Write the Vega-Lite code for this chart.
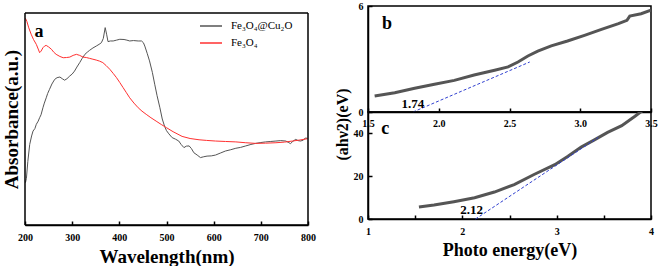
{
  "$schema": "https://vega.github.io/schema/vega-lite/v6.json",
  "padding": {"top": 0, "left": 2, "right": 0, "bottom": 0},
  "spacing": 17,
  "config": {
    "font": "Liberation Serif",
    "view": {"stroke": "black", "strokeWidth": 1.5},
    "axis": {
      "grid": false,
      "domain": true,
      "ticks": true,
      "domainColor": "black",
      "domainWidth": 1.5,
      "tickColor": "black",
      "tickWidth": 1.5,
      "tickSize": -4,
      "labelFlush": false,
      "labelFont": "Liberation Serif",
      "labelFontWeight": "bold",
      "labelFontSize": 10,
      "labelColor": "black",
      "titleFont": "Liberation Serif",
      "titleFontWeight": "bold",
      "titleColor": "black"
    }
  },
  "datasets": {
    "abs": [
      {"wl": 201, "abs": 0.20, "sample": "Fe₃O₄@Cu₂O"},
      {"wl": 203, "abs": 0.22, "sample": "Fe₃O₄@Cu₂O"},
      {"wl": 206, "abs": 0.30, "sample": "Fe₃O₄@Cu₂O"},
      {"wl": 210, "abs": 0.38, "sample": "Fe₃O₄@Cu₂O"},
      {"wl": 214, "abs": 0.42, "sample": "Fe₃O₄@Cu₂O"},
      {"wl": 217, "abs": 0.443, "sample": "Fe₃O₄@Cu₂O"},
      {"wl": 221, "abs": 0.455, "sample": "Fe₃O₄@Cu₂O"},
      {"wl": 224, "abs": 0.475, "sample": "Fe₃O₄@Cu₂O"},
      {"wl": 228, "abs": 0.49, "sample": "Fe₃O₄@Cu₂O"},
      {"wl": 231, "abs": 0.506, "sample": "Fe₃O₄@Cu₂O"},
      {"wl": 234, "abs": 0.52, "sample": "Fe₃O₄@Cu₂O"},
      {"wl": 238, "abs": 0.553, "sample": "Fe₃O₄@Cu₂O"},
      {"wl": 241, "abs": 0.575, "sample": "Fe₃O₄@Cu₂O"},
      {"wl": 245, "abs": 0.60, "sample": "Fe₃O₄@Cu₂O"},
      {"wl": 248, "abs": 0.62, "sample": "Fe₃O₄@Cu₂O"},
      {"wl": 252, "abs": 0.64, "sample": "Fe₃O₄@Cu₂O"},
      {"wl": 257, "abs": 0.665, "sample": "Fe₃O₄@Cu₂O"},
      {"wl": 263, "abs": 0.687, "sample": "Fe₃O₄@Cu₂O"},
      {"wl": 268, "abs": 0.695, "sample": "Fe₃O₄@Cu₂O"},
      {"wl": 274, "abs": 0.698, "sample": "Fe₃O₄@Cu₂O"},
      {"wl": 279, "abs": 0.69, "sample": "Fe₃O₄@Cu₂O"},
      {"wl": 284, "abs": 0.683, "sample": "Fe₃O₄@Cu₂O"},
      {"wl": 289, "abs": 0.69, "sample": "Fe₃O₄@Cu₂O"},
      {"wl": 295, "abs": 0.703, "sample": "Fe₃O₄@Cu₂O"},
      {"wl": 300, "abs": 0.712, "sample": "Fe₃O₄@Cu₂O"},
      {"wl": 305, "abs": 0.726, "sample": "Fe₃O₄@Cu₂O"},
      {"wl": 310, "abs": 0.745, "sample": "Fe₃O₄@Cu₂O"},
      {"wl": 316, "abs": 0.766, "sample": "Fe₃O₄@Cu₂O"},
      {"wl": 321, "abs": 0.785, "sample": "Fe₃O₄@Cu₂O"},
      {"wl": 327, "abs": 0.805, "sample": "Fe₃O₄@Cu₂O"},
      {"wl": 332, "abs": 0.815, "sample": "Fe₃O₄@Cu₂O"},
      {"wl": 337, "abs": 0.824, "sample": "Fe₃O₄@Cu₂O"},
      {"wl": 344, "abs": 0.835, "sample": "Fe₃O₄@Cu₂O"},
      {"wl": 351, "abs": 0.844, "sample": "Fe₃O₄@Cu₂O"},
      {"wl": 357, "abs": 0.852, "sample": "Fe₃O₄@Cu₂O"},
      {"wl": 362, "abs": 0.86, "sample": "Fe₃O₄@Cu₂O"},
      {"wl": 366, "abs": 0.88, "sample": "Fe₃O₄@Cu₂O"},
      {"wl": 370, "abs": 0.931, "sample": "Fe₃O₄@Cu₂O"},
      {"wl": 373, "abs": 0.90, "sample": "Fe₃O₄@Cu₂O"},
      {"wl": 376, "abs": 0.865, "sample": "Fe₃O₄@Cu₂O"},
      {"wl": 381, "abs": 0.868, "sample": "Fe₃O₄@Cu₂O"},
      {"wl": 387, "abs": 0.868, "sample": "Fe₃O₄@Cu₂O"},
      {"wl": 394, "abs": 0.872, "sample": "Fe₃O₄@Cu₂O"},
      {"wl": 401, "abs": 0.876, "sample": "Fe₃O₄@Cu₂O"},
      {"wl": 410, "abs": 0.875, "sample": "Fe₃O₄@Cu₂O"},
      {"wl": 416, "abs": 0.872, "sample": "Fe₃O₄@Cu₂O"},
      {"wl": 422, "abs": 0.868, "sample": "Fe₃O₄@Cu₂O"},
      {"wl": 430, "abs": 0.87, "sample": "Fe₃O₄@Cu₂O"},
      {"wl": 440, "abs": 0.868, "sample": "Fe₃O₄@Cu₂O"},
      {"wl": 447, "abs": 0.868, "sample": "Fe₃O₄@Cu₂O"},
      {"wl": 451, "abs": 0.86, "sample": "Fe₃O₄@Cu₂O"},
      {"wl": 454, "abs": 0.844, "sample": "Fe₃O₄@Cu₂O"},
      {"wl": 459, "abs": 0.81, "sample": "Fe₃O₄@Cu₂O"},
      {"wl": 464, "abs": 0.774, "sample": "Fe₃O₄@Cu₂O"},
      {"wl": 470, "abs": 0.72, "sample": "Fe₃O₄@Cu₂O"},
      {"wl": 475, "abs": 0.664, "sample": "Fe₃O₄@Cu₂O"},
      {"wl": 480, "abs": 0.61, "sample": "Fe₃O₄@Cu₂O"},
      {"wl": 486, "abs": 0.553, "sample": "Fe₃O₄@Cu₂O"},
      {"wl": 491, "abs": 0.50, "sample": "Fe₃O₄@Cu₂O"},
      {"wl": 496, "abs": 0.465, "sample": "Fe₃O₄@Cu₂O"},
      {"wl": 500, "abs": 0.445, "sample": "Fe₃O₄@Cu₂O"},
      {"wl": 505, "abs": 0.43, "sample": "Fe₃O₄@Cu₂O"},
      {"wl": 512, "abs": 0.412, "sample": "Fe₃O₄@Cu₂O"},
      {"wl": 519, "abs": 0.405, "sample": "Fe₃O₄@Cu₂O"},
      {"wl": 526, "abs": 0.396, "sample": "Fe₃O₄@Cu₂O"},
      {"wl": 531, "abs": 0.38, "sample": "Fe₃O₄@Cu₂O"},
      {"wl": 537, "abs": 0.365, "sample": "Fe₃O₄@Cu₂O"},
      {"wl": 542, "abs": 0.372, "sample": "Fe₃O₄@Cu₂O"},
      {"wl": 548, "abs": 0.373, "sample": "Fe₃O₄@Cu₂O"},
      {"wl": 553, "abs": 0.36, "sample": "Fe₃O₄@Cu₂O"},
      {"wl": 558, "abs": 0.341, "sample": "Fe₃O₄@Cu₂O"},
      {"wl": 565, "abs": 0.33, "sample": "Fe₃O₄@Cu₂O"},
      {"wl": 572, "abs": 0.318, "sample": "Fe₃O₄@Cu₂O"},
      {"wl": 579, "abs": 0.322, "sample": "Fe₃O₄@Cu₂O"},
      {"wl": 586, "abs": 0.325, "sample": "Fe₃O₄@Cu₂O"},
      {"wl": 595, "abs": 0.326, "sample": "Fe₃O₄@Cu₂O"},
      {"wl": 604, "abs": 0.33, "sample": "Fe₃O₄@Cu₂O"},
      {"wl": 615, "abs": 0.34, "sample": "Fe₃O₄@Cu₂O"},
      {"wl": 625, "abs": 0.349, "sample": "Fe₃O₄@Cu₂O"},
      {"wl": 636, "abs": 0.355, "sample": "Fe₃O₄@Cu₂O"},
      {"wl": 647, "abs": 0.362, "sample": "Fe₃O₄@Cu₂O"},
      {"wl": 657, "abs": 0.366, "sample": "Fe₃O₄@Cu₂O"},
      {"wl": 668, "abs": 0.373, "sample": "Fe₃O₄@Cu₂O"},
      {"wl": 679, "abs": 0.38, "sample": "Fe₃O₄@Cu₂O"},
      {"wl": 689, "abs": 0.385, "sample": "Fe₃O₄@Cu₂O"},
      {"wl": 700, "abs": 0.389, "sample": "Fe₃O₄@Cu₂O"},
      {"wl": 710, "abs": 0.392, "sample": "Fe₃O₄@Cu₂O"},
      {"wl": 721, "abs": 0.394, "sample": "Fe₃O₄@Cu₂O"},
      {"wl": 732, "abs": 0.396, "sample": "Fe₃O₄@Cu₂O"},
      {"wl": 742, "abs": 0.398, "sample": "Fe₃O₄@Cu₂O"},
      {"wl": 753, "abs": 0.396, "sample": "Fe₃O₄@Cu₂O"},
      {"wl": 758, "abs": 0.39, "sample": "Fe₃O₄@Cu₂O"},
      {"wl": 763, "abs": 0.384, "sample": "Fe₃O₄@Cu₂O"},
      {"wl": 768, "abs": 0.395, "sample": "Fe₃O₄@Cu₂O"},
      {"wl": 774, "abs": 0.404, "sample": "Fe₃O₄@Cu₂O"},
      {"wl": 779, "abs": 0.398, "sample": "Fe₃O₄@Cu₂O"},
      {"wl": 784, "abs": 0.396, "sample": "Fe₃O₄@Cu₂O"},
      {"wl": 790, "abs": 0.40, "sample": "Fe₃O₄@Cu₂O"},
      {"wl": 794, "abs": 0.41, "sample": "Fe₃O₄@Cu₂O"},
      {"wl": 799, "abs": 0.409, "sample": "Fe₃O₄@Cu₂O"},
      {"wl": 201, "abs": 0.975, "sample": "Fe₃O₄"},
      {"wl": 204, "abs": 0.96, "sample": "Fe₃O₄"},
      {"wl": 208, "abs": 0.93, "sample": "Fe₃O₄"},
      {"wl": 213, "abs": 0.90, "sample": "Fe₃O₄"},
      {"wl": 218, "abs": 0.875, "sample": "Fe₃O₄"},
      {"wl": 224, "abs": 0.852, "sample": "Fe₃O₄"},
      {"wl": 228, "abs": 0.83, "sample": "Fe₃O₄"},
      {"wl": 231, "abs": 0.813, "sample": "Fe₃O₄"},
      {"wl": 234, "abs": 0.82, "sample": "Fe₃O₄"},
      {"wl": 238, "abs": 0.836, "sample": "Fe₃O₄"},
      {"wl": 242, "abs": 0.845, "sample": "Fe₃O₄"},
      {"wl": 245, "abs": 0.847, "sample": "Fe₃O₄"},
      {"wl": 250, "abs": 0.84, "sample": "Fe₃O₄"},
      {"wl": 256, "abs": 0.829, "sample": "Fe₃O₄"},
      {"wl": 261, "abs": 0.815, "sample": "Fe₃O₄"},
      {"wl": 266, "abs": 0.805, "sample": "Fe₃O₄"},
      {"wl": 274, "abs": 0.795, "sample": "Fe₃O₄"},
      {"wl": 281, "abs": 0.789, "sample": "Fe₃O₄"},
      {"wl": 288, "abs": 0.79, "sample": "Fe₃O₄"},
      {"wl": 295, "abs": 0.792, "sample": "Fe₃O₄"},
      {"wl": 302, "abs": 0.80, "sample": "Fe₃O₄"},
      {"wl": 309, "abs": 0.805, "sample": "Fe₃O₄"},
      {"wl": 316, "abs": 0.80, "sample": "Fe₃O₄"},
      {"wl": 323, "abs": 0.792, "sample": "Fe₃O₄"},
      {"wl": 330, "abs": 0.79, "sample": "Fe₃O₄"},
      {"wl": 337, "abs": 0.786, "sample": "Fe₃O₄"},
      {"wl": 344, "abs": 0.782, "sample": "Fe₃O₄"},
      {"wl": 351, "abs": 0.778, "sample": "Fe₃O₄"},
      {"wl": 358, "abs": 0.773, "sample": "Fe₃O₄"},
      {"wl": 365, "abs": 0.766, "sample": "Fe₃O₄"},
      {"wl": 372, "abs": 0.752, "sample": "Fe₃O₄"},
      {"wl": 380, "abs": 0.734, "sample": "Fe₃O₄"},
      {"wl": 387, "abs": 0.715, "sample": "Fe₃O₄"},
      {"wl": 394, "abs": 0.695, "sample": "Fe₃O₄"},
      {"wl": 401, "abs": 0.672, "sample": "Fe₃O₄"},
      {"wl": 408, "abs": 0.648, "sample": "Fe₃O₄"},
      {"wl": 415, "abs": 0.624, "sample": "Fe₃O₄"},
      {"wl": 422, "abs": 0.60, "sample": "Fe₃O₄"},
      {"wl": 431, "abs": 0.575, "sample": "Fe₃O₄"},
      {"wl": 440, "abs": 0.553, "sample": "Fe₃O₄"},
      {"wl": 448, "abs": 0.537, "sample": "Fe₃O₄"},
      {"wl": 457, "abs": 0.522, "sample": "Fe₃O₄"},
      {"wl": 467, "abs": 0.506, "sample": "Fe₃O₄"},
      {"wl": 478, "abs": 0.49, "sample": "Fe₃O₄"},
      {"wl": 489, "abs": 0.474, "sample": "Fe₃O₄"},
      {"wl": 500, "abs": 0.459, "sample": "Fe₃O₄"},
      {"wl": 514, "abs": 0.44, "sample": "Fe₃O₄"},
      {"wl": 533, "abs": 0.418, "sample": "Fe₃O₄"},
      {"wl": 550, "abs": 0.408, "sample": "Fe₃O₄"},
      {"wl": 569, "abs": 0.402, "sample": "Fe₃O₄"},
      {"wl": 585, "abs": 0.399, "sample": "Fe₃O₄"},
      {"wl": 604, "abs": 0.396, "sample": "Fe₃O₄"},
      {"wl": 625, "abs": 0.394, "sample": "Fe₃O₄"},
      {"wl": 647, "abs": 0.392, "sample": "Fe₃O₄"},
      {"wl": 668, "abs": 0.388, "sample": "Fe₃O₄"},
      {"wl": 689, "abs": 0.385, "sample": "Fe₃O₄"},
      {"wl": 710, "abs": 0.386, "sample": "Fe₃O₄"},
      {"wl": 732, "abs": 0.388, "sample": "Fe₃O₄"},
      {"wl": 750, "abs": 0.391, "sample": "Fe₃O₄"},
      {"wl": 767, "abs": 0.396, "sample": "Fe₃O₄"},
      {"wl": 783, "abs": 0.401, "sample": "Fe₃O₄"},
      {"wl": 799, "abs": 0.407, "sample": "Fe₃O₄"}
    ],
    "b": [
      {"e": 1.547, "v": 0.906}, {"e": 1.689, "v": 1.09}, {"e": 1.83, "v": 1.34},
      {"e": 1.97, "v": 1.57}, {"e": 2.11, "v": 1.79}, {"e": 2.25, "v": 2.09},
      {"e": 2.395, "v": 2.36}, {"e": 2.49, "v": 2.55}, {"e": 2.56, "v": 2.83},
      {"e": 2.63, "v": 3.17}, {"e": 2.70, "v": 3.45}, {"e": 2.795, "v": 3.74},
      {"e": 2.91, "v": 4.02}, {"e": 3.03, "v": 4.34}, {"e": 3.15, "v": 4.68},
      {"e": 3.27, "v": 5.0}, {"e": 3.33, "v": 5.19}, {"e": 3.35, "v": 5.43},
      {"e": 3.43, "v": 5.56}, {"e": 3.50, "v": 5.76}
    ],
    "bfit": [{"e": 1.818, "v": 0}, {"e": 2.643, "v": 2.83}],
    "c": [
      {"e": 1.54, "v": 5.6}, {"e": 1.70, "v": 6.5}, {"e": 1.91, "v": 8.1},
      {"e": 2.13, "v": 9.9}, {"e": 2.34, "v": 12.6}, {"e": 2.55, "v": 16.1},
      {"e": 2.76, "v": 20.8}, {"e": 2.98, "v": 25.4}, {"e": 3.12, "v": 29.3},
      {"e": 3.26, "v": 33.6}, {"e": 3.40, "v": 37.0}, {"e": 3.54, "v": 40.5},
      {"e": 3.69, "v": 43.6}, {"e": 3.83, "v": 48.0}, {"e": 3.92, "v": 51}
    ],
    "cfit": [{"e": 2.14, "v": 0}, {"e": 3.44, "v": 38.1}]
  },
  "hconcat": [
    {
      "width": 283,
      "height": 219,
      "view": {"stroke": null},
      "layer": [
        {
          "data": {"name": "abs"},
          "mark": {"type": "line", "strokeWidth": 1, "clip": true},
          "encoding": {
            "x": {
              "field": "wl", "type": "quantitative",
              "scale": {"domain": [200, 800], "nice": false},
              "axis": {
                "title": "Wavelength(nm)", "titleFontSize": 19, "titlePadding": 5,
                "titleFont": "Liberation Serif", "labelFont": "Liberation Serif",
                "values": [200, 250, 300, 350, 400, 450, 500, 550, 600, 650, 700, 750, 800],
                "labelExpr": "datum.value % 100 == 0 ? datum.label : ''",
                "tickSize": -4,
                "labelPadding": 11
              }
            },
            "y": {
              "field": "abs", "type": "quantitative",
              "scale": {"domain": [0, 1.033], "nice": false},
              "axis": {"title": "Absorbance(a.u.)", "titleFontSize": 19, "labels": false, "ticks": false, "domain": false, "titlePadding": 4, "titleY": 113,
                "titleFont": "Liberation Serif", "labelFont": "Liberation Serif"}
            },
            "color": {
              "field": "sample", "type": "nominal",
              "scale": {"domain": ["Fe₃O₄@Cu₂O", "Fe₃O₄"], "range": ["#555555", "#ff3030"]},
              "legend": {
                "orient": "none", "legendX": 174, "legendY": 8, "title": null,
                "symbolType": "stroke", "symbolSize": 484, "symbolStrokeWidth": 1.5,
                "labelFont": "Liberation Serif", "labelFontSize": 11, "labelColor": "black",
                "rowPadding": -2, "padding": 0, "labelOffset": 8
              }
            }
          }
        },
        {
          "data": {"values": [{}]},
          "mark": {"type": "rule", "color": "black", "strokeWidth": 1.5},
          "encoding": {
            "x": {"datum": 200, "type": "quantitative"},
            "y": {"datum": 0, "type": "quantitative"},
            "y2": {"datum": 1}
          }
        },
        {
          "data": {"values": [{}]},
          "mark": {"type": "rule", "color": "black", "strokeWidth": 1.5},
          "encoding": {
            "x": {"datum": 800, "type": "quantitative"},
            "y": {"datum": 0, "type": "quantitative"},
            "y2": {"datum": 1}
          }
        },
        {
          "data": {"values": [{}]},
          "mark": {"type": "rule", "color": "black", "strokeWidth": 1.5},
          "encoding": {
            "x": {"datum": 200, "type": "quantitative"},
            "x2": {"datum": 800},
            "y": {"datum": 1, "type": "quantitative"}
          }
        },
        {
          "data": {"values": [{}]},
          "mark": {"type": "rule", "color": "black", "strokeWidth": 1.5},
          "encoding": {
            "x": {"datum": 200, "type": "quantitative"},
            "x2": {"datum": 800},
            "y": {"datum": 0, "type": "quantitative"}
          }
        },
        {
          "data": {"values": [{"label": "a", "wl": 229.7, "abs": 0.887}]},
          "mark": {"type": "text", "font": "Liberation Serif", "fontWeight": "bold", "fontSize": 18, "align": "center", "baseline": "alphabetic"},
          "encoding": {
            "x": {"field": "wl", "type": "quantitative"},
            "y": {"field": "abs", "type": "quantitative"},
            "text": {"field": "label"}
          }
        }
      ]
    },
    {
      "spacing": 0,
      "bounds": "flush",
      "vconcat": [
        {
          "width": 283,
          "height": 106,
          "layer": [
            {
              "data": {"name": "b"},
              "mark": {"type": "line", "color": "#555555", "strokeWidth": 3, "clip": true},
              "encoding": {
                "x": {
                  "field": "e", "type": "quantitative",
                  "scale": {"domain": [1.5, 3.5], "nice": false},
                  "axis": {
                    "title": null, "format": ".1f",
                    "labelFont": "Liberation Serif",
                    "values": [1.5, 1.75, 2, 2.25, 2.5, 2.75, 3, 3.25, 3.5],
                    "labelExpr": "(datum.value * 2) % 1 == 0 ? datum.label : ''",
                    "tickSize": -4,
                    "labelPadding": 10
                  }
                },
                "y": {
                  "field": "v", "type": "quantitative",
                  "scale": {"domain": [0, 6], "nice": false},
                  "axis": {
                    "title": null,
                    "labelFont": "Liberation Serif",
                    "values": [0, 1, 2, 3, 4, 5, 6],
                    "labelExpr": "datum.value % 2 == 0 ? datum.label : ''",
                    "tickSize": -4,
                    "labelPadding": 9
                  }
                }
              }
            },
            {
              "data": {"name": "bfit"},
              "mark": {"type": "line", "color": "#3040d0", "strokeWidth": 1, "strokeDash": [3, 2]},
              "encoding": {
                "x": {"field": "e", "type": "quantitative"},
                "y": {"field": "v", "type": "quantitative"}
              }
            },
            {
              "data": {"values": [{"label": "b", "e": 1.634, "v": 4.7}]},
              "mark": {"type": "text", "font": "Liberation Serif", "fontWeight": "bold", "fontSize": 18, "align": "center", "baseline": "alphabetic"},
              "encoding": {
                "x": {"field": "e", "type": "quantitative"},
                "y": {"field": "v", "type": "quantitative"},
                "text": {"field": "label"}
              }
            },
            {
              "data": {"values": [{"label": "1.74", "e": 1.818, "v": 0.226}]},
              "mark": {"type": "text", "font": "Liberation Serif", "fontWeight": "bold", "fontSize": 13, "align": "center", "baseline": "alphabetic"},
              "encoding": {
                "x": {"field": "e", "type": "quantitative"},
                "y": {"field": "v", "type": "quantitative"},
                "text": {"field": "label"}
              }
            }
          ]
        },
        {
          "width": 283,
          "height": 107,
          "layer": [
            {
              "data": {"name": "c"},
              "mark": {"type": "line", "color": "#555555", "strokeWidth": 3, "clip": true},
              "encoding": {
                "x": {
                  "field": "e", "type": "quantitative",
                  "scale": {"domain": [1, 4], "nice": false},
                  "axis": {
                    "title": "Photo energy(eV)", "titleFontSize": 18, "titlePadding": 5,
                    "titleFont": "Liberation Serif", "labelFont": "Liberation Serif",
                    "values": [1, 1.5, 2, 2.5, 3, 3.5, 4],
                    "labelExpr": "datum.value % 1 == 0 ? format(datum.value, 'd') : ''",
                    "tickSize": -4,
                    "labelPadding": 11
                  }
                },
                "y": {
                  "field": "v", "type": "quantitative",
                  "scale": {"domain": [0, 50], "nice": false},
                  "axis": {
                    "title": "(ahν2)(eV)", "titleFontSize": 16, "titleX": -26, "titleY": 12,
                    "titleFont": "Liberation Serif", "labelFont": "Liberation Serif",
                    "titleBaseline": "middle", "titleAlign": "center",
                    "values": [0, 10, 20, 30, 40],
                    "labelExpr": "datum.value % 20 == 0 ? datum.label : ''",
                    "tickSize": -4,
                    "labelPadding": 9
                  }
                }
              }
            },
            {
              "data": {"name": "cfit"},
              "mark": {"type": "line", "color": "#3040d0", "strokeWidth": 1, "strokeDash": [3, 2]},
              "encoding": {
                "x": {"field": "e", "type": "quantitative"},
                "y": {"field": "v", "type": "quantitative"}
              }
            },
            {
              "data": {"values": [{"label": "c", "e": 1.184, "v": 39.5}]},
              "mark": {"type": "text", "font": "Liberation Serif", "fontWeight": "bold", "fontSize": 18, "align": "center", "baseline": "alphabetic"},
              "encoding": {
                "x": {"field": "e", "type": "quantitative"},
                "y": {"field": "v", "type": "quantitative"},
                "text": {"field": "label"}
              }
            },
            {
              "data": {"values": [{"label": "2.12", "e": 2.098, "v": 2.47}]},
              "mark": {"type": "text", "font": "Liberation Serif", "fontWeight": "bold", "fontSize": 13, "align": "center", "baseline": "alphabetic"},
              "encoding": {
                "x": {"field": "e", "type": "quantitative"},
                "y": {"field": "v", "type": "quantitative"},
                "text": {"field": "label"}
              }
            }
          ]
        }
      ]
    }
  ]
}
